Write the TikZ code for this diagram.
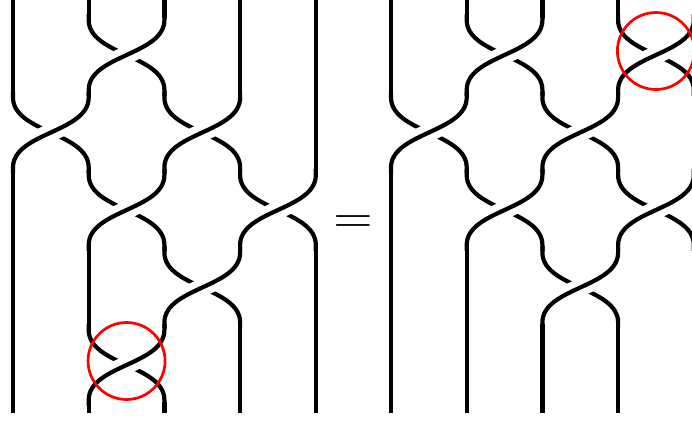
\documentclass[tikz,border=0pt]{standalone}
\usepackage{tikz}

\begin{document}
\begin{tikzpicture}[x=1pt,y=-1pt,
        strand/.style={line width=4.2pt,line cap=rect},
        halo/.style={draw=white,line width=18pt},
        ring/.style={red,line width=2.7pt}]
    \useasboundingbox (0,0) rectangle (692,421);

    % crossings: strand j goes under strand j+1
    \foreach \ox/\j/\k in {13/1/0,13/0/1,13/2/1,13/1/2,13/3/2,13/2/3,13/1/4,
            391/1/0,391/3/0,391/0/1,391/2/1,391/1/2,391/3/2,391/2/3} {
        \pgfmathsetmacro\xa{\ox+\j*75.7}
        \pgfmathsetmacro\xb{\xa+75.7}
        \pgfmathsetmacro\yc{55+\k*77.5}
        \draw[strand] (\xa,\yc-38.75) -- (\xa,\yc-35)
            .. controls (\xa,\yc) and (\xb,\yc) .. (\xb,\yc+35) -- (\xb,\yc+38.75);
        \draw[halo] (\xb,\yc-35) .. controls (\xb,\yc) and (\xa,\yc) .. (\xa,\yc+35);
        \draw[strand] (\xb,\yc-38.75) -- (\xb,\yc-35)
            .. controls (\xb,\yc) and (\xa,\yc) .. (\xa,\yc+35) -- (\xa,\yc+38.75);
    }

    % straight pieces, row by row
    \foreach \ox/\j/\k in {13/0/0,13/3/0,13/4/0,13/4/1,13/0/2,13/0/3,13/1/3,13/4/3,
            13/0/4,13/3/4,13/4/4,
            391/0/0,391/4/1,391/0/2,391/0/3,391/1/3,391/4/3,
            391/0/4,391/1/4,391/2/4,391/3/4,391/4/4} {
        \pgfmathsetmacro\xa{\ox+\j*75.7}
        \pgfmathsetmacro\yc{55+\k*77.5}
        \draw[strand] (\xa,\yc-38.75) -- (\xa,\yc+38.75);
    }

    % loose ends at the top and at the bottom
    \foreach \ox in {13,391}
        \foreach \j in {0,...,4} {
            \draw[strand] (\ox+\j*75.7,0) -- (\ox+\j*75.7,16.25);
            \draw[strand] (\ox+\j*75.7,403.75) -- (\ox+\j*75.7,410.9);
        }

    \node[anchor=base,inner sep=0pt] (eq) at (353,232) {\scalebox{5.1}[4.6]{$=$}};

    \draw[ring] (126.55,361) circle[radius=38.5pt];
    \draw[ring] (655.9,51) circle[radius=38.5pt];
\end{tikzpicture}
\end{document}
